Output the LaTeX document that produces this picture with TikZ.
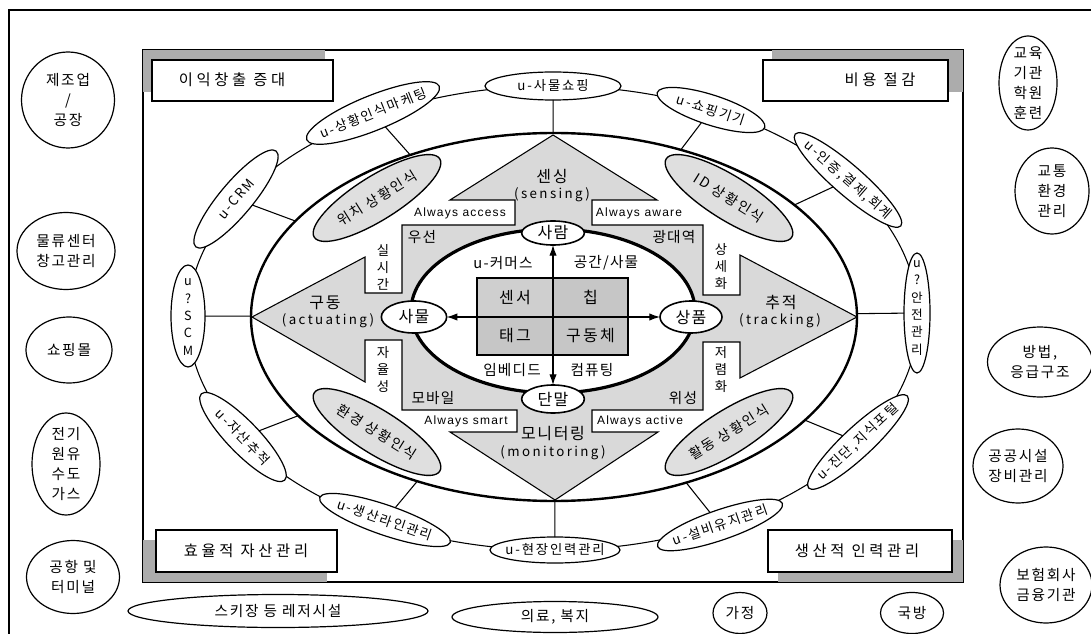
\documentclass[tikz,border=0pt]{standalone}
\usepackage{fontspec}
\setmainfont{Noto Sans CJK KR}
\newfontfamily\lat{Liberation Sans}[LetterSpace=10]
\usetikzlibrary{shapes.geometric,arrows.meta}
\newcommand\myfs[3]{\fontsize{#1}{#2}\selectfont\addfontfeatures{LetterSpace=#3}}
\tikzset{
 sat/.style={draw, ellipse, fill=white, line width=0.9pt},
 isat/.style={draw, ellipse, fill=gray!25, line width=1pt},
 outer/.style={draw, ellipse, fill=white, line width=0.9pt},
 sattxt/.style={font=\myfs{10}{12}{14}},
 isattxt/.style={font=\myfs{10.5}{12}{15}},
 vtxt/.style={align=center, font=\myfs{9.5}{13}{0}},
 outtxt/.style={align=center, font=\myfs{11}{15}{12}},
 ctxt/.style={font=\myfs{11.5}{14}{24}},
 cbox/.style={draw, fill=white, line width=0.9pt},
 keynode/.style={draw, ellipse, fill=white, line width=1.2pt, font=\myfs{12}{14}{8}},
 cell/.style={draw, line width=0.8pt, font=\myfs{12}{14}{14}},
 lbl/.style={font=\myfs{11}{13}{8}},
 arrtxt/.style={font=\myfs{12}{14}{10}},
 engtxt/.style={font=\myfs{10}{12}{18}},
 always/.style={font=\lat\fontsize{9}{11}\selectfont},
 boxv/.style={align=center, font=\myfs{10}{12.75}{0}},
 spoke/.style={line width=0.8pt},
}
\newcommand\Sat[7]{%
 \node[sat, rotate=#4, minimum width=#5*0.75pt, minimum height=#6*0.75pt] (#1) at (#2,#3) {};
 \node[sattxt, rotate=#4] (#1t) at (#1.center) {#7};
 \draw[spoke] (#1) -- (mid);}
\newcommand\Out[6]{%
 \node[outer, minimum width=#4*0.75pt, minimum height=#5*0.75pt] (#1) at (#2,#3) {};
 \node[outtxt] (#1t) at (#1.center) {#6};}
\newcommand\Isat[5]{%
 \node[isat, rotate=#4, minimum width=111pt, minimum height=33pt] (#1) at (#2,#3) {};
 \node[isattxt, rotate=#4] (#1t) at (#1.center) {#5};}
\begin{document}
\begin{tikzpicture}[x=0.75pt,y=-0.75pt, every node/.append style={inner sep=0pt, outer sep=0pt}]
\useasboundingbox (0,0) rectangle (1091,634);
% outer frame
\draw[line width=0.9pt] (9,634) -- (9,10) -- (1091,10);
% inner rectangle
\draw[line width=0.9pt] (143,50) rectangle (963,582);
% corner labels
\fill[gray!65] (143,50) rectangle (325,92);
\node[cbox, minimum width=135.75pt, minimum height=30.75pt] (tl) at (242.5,80.5) {};
\node[ctxt] (tlt) at (232,80) {이익창출 증대};
\fill[gray!65] (772,50) rectangle (963,92);
\node[cbox, minimum width=138.75pt, minimum height=30.75pt] (tr) at (855.5,80.5) {};
\node[ctxt] (trt) at (880,80) {비용 절감};
\fill[gray!65] (143,540) rectangle (327,582);
\node[cbox, minimum width=135.75pt, minimum height=31.5pt] (bl) at (246.5,551) {};
\node[ctxt] (blt) at (246,551) {효율적 자산관리};
\fill[gray!65] (778,540) rectangle (963,582);
\node[cbox, minimum width=138pt, minimum height=31.5pt] (br) at (860,551) {};
\node[ctxt] (brt) at (857,551) {생산적 인력관리};
% ring and middle ellipse
\node[draw, ellipse, line width=0.8pt, minimum width=547.5pt, minimum height=348pt] (ring) at (553,318) {};
\node[draw, ellipse, fill=white, line width=1.8pt, minimum width=454.5pt, minimum height=276pt] (mid) at (554,317) {};
% satellites on ring
\Sat{s90}{553}{86}{0}{136}{28}{u-사물쇼핑}
\Sat{s63}{711}{110}{-18}{113}{30}{u-쇼핑기기}
\Sat{s36}{848}{180}{-41}{140}{30}{u-인증,결제,회계}
\Sat{s0}{917}{313}{0}{26}{120}{}
\node[vtxt] (s0v) at (917,308) {u\\?\\안\\전\\관\\리};
\Sat{s328}{858}{442}{43}{135}{30}{u-진단,지식포털}
\Sat{s297}{720}{525}{19}{132}{30}{u-설비유지관리}
\Sat{s270}{555}{550}{0}{130}{26}{u-현장인력관리}
\Sat{s242}{385}{520}{-19}{138}{30}{u-생산라인관리}
\Sat{s211}{243}{437}{-46}{120}{32}{u-자산추적}
\Sat{s180}{188}{316}{0}{34}{102}{}
\node[vtxt] (s180v) at (188,317) {u\\?\\S\\C\\M};
\Sat{s150}{236}{199}{50}{125}{33}{u-CRM}
\Sat{s119}{373}{113}{22}{143}{35}{u-상황인식마케팅}
% inner gray satellites
\Isat{i1}{377}{198}{32}{위치 상황인식}
\Isat{i2}{729}{198}{-32}{ID 상황인식}
\Isat{i3}{377}{432}{-32}{환경 상황인식}
\Isat{i4}{729}{432}{32}{활동 상황인식}
% gray cross shape
\draw[fill=gray!30, line width=0.8pt] (553,135) -- (657,200) -- (592,200) -- (592,225) -- (703,225)
 -- (703,295) -- (740,295) -- (740,255) -- (857,317) -- (740,378) -- (740,342) -- (703,342)
 -- (703,410) -- (592,410) -- (592,432) -- (658,432) -- (555,500) -- (450,432) -- (517,432)
 -- (517,410) -- (402,410) -- (402,340) -- (365,340) -- (365,382) -- (252,317) -- (365,257)
 -- (365,293) -- (402,293) -- (402,225) -- (515,225) -- (515,200) -- (450,200) -- cycle;
% core ellipse
\node[draw, ellipse, fill=white, line width=2.4pt, minimum width=213pt, minimum height=123pt] (core) at (553,311) {};
% center cells
\node[cell, fill=gray!38, minimum width=57pt, minimum height=29.25pt] (c1) at (515,297.5) {센서};
\node[cell, fill=gray!45, minimum width=56.25pt, minimum height=29.25pt] (c2) at (590.5,297.5) {칩};
\node[cell, fill=gray!45, minimum width=57pt, minimum height=28.5pt] (c3) at (515,336) {태그};
\node[cell, fill=gray!45, minimum width=56.25pt, minimum height=28.5pt] (c4) at (590.5,336) {구동체};
% key nodes
\node[keynode, minimum width=47pt, minimum height=18pt] (saram) at (553,233) {사람};
\node[keynode, minimum width=49pt, minimum height=24pt] (samul) at (414,317) {사물};
\node[keynode, minimum width=46.5pt, minimum height=24pt] (sangpum) at (691,317) {상품};
\node[keynode, minimum width=47pt, minimum height=21pt] (danmal) at (553,399) {단말};
\draw[line width=0.8pt, {Latex[length=8pt,width=5.5pt]}-{Latex[length=8pt,width=5.5pt]}] (saram) -- (danmal);
\draw[line width=0.8pt, {Latex[length=8pt,width=5.5pt]}-{Latex[length=8pt,width=5.5pt]}] (samul) -- (sangpum);
% texts inside core
\node[lbl] (t1) at (503,263) {u-커머스};
\node[lbl] (t2) at (606,263) {공간/사물};
\node[lbl] (t3) at (512,370) {임베디드};
\node[lbl] (t4) at (592,370) {컴퓨팅};
% gray area labels
\node[lbl] (g1) at (422,237) {우선};
\node[lbl] (g2) at (674,237) {광대역};
\node[lbl] (g3) at (433,398) {모바일};
\node[lbl] (g4) at (683,398) {위성};
% notch labels
\node[always] (a1) at (460,213) {Always access};
\node[always] (a2) at (639,213) {Always aware};
\node[always] (a3) at (466,421) {Always smart};
\node[always] (a4) at (640,421) {Always active};
\node[boxv] (v1) at (383,267) {실\\시\\간};
\node[boxv] (v2) at (383,369) {자\\율\\성};
\node[boxv] (v3) at (721,267) {상\\세\\화};
\node[boxv] (v4) at (721,370) {저\\렴\\화};
% arrow labels
\node[arrtxt] (k1) at (552,176) {센싱};
\node[engtxt] (k1e) at (552,195) {(sensing)};
\node[arrtxt] (k2) at (325,303) {구동};
\node[engtxt] (k2e) at (328,321) {(actuating)};
\node[arrtxt] (k3) at (781,303) {추적};
\node[engtxt] (k3e) at (780,321) {(tracking)};
\node[arrtxt] (k4) at (553,434) {모니터링};
\node[engtxt] (k4e) at (553,453) {(monitoring)};
% outer application areas
\Out{o1}{68}{100}{93}{96}{제조업\\/\\공장}
\Out{o2}{66}{251}{98}{77}{물류센터\\창고관리}
\Out{o3}{69}{350}{86}{66}{쇼핑몰}
\Out{o4}{66}{464}{68}{102}{전기\\원유\\수도\\가스}
\Out{o5}{73}{577}{93}{73}{공항 및\\터미널}
\Out{o6}{1028}{83}{58}{94}{교육\\기관\\학원\\훈련}
\Out{o7}{1052}{191}{74}{86}{교통\\환경\\관리}
\Out{o8}{1040}{362}{105}{70}{방법,\\응급구조}
\Out{o9}{1018}{466}{90}{74}{공공시설\\장비관리}
\Out{o10}{1046}{585}{92}{76}{보험회사\\금융기관}
\Out{o11}{278}{611}{300}{33}{스키장 등 레저시설}
\Out{o12}{555}{617}{206}{31}{의료, 복지}
\Out{o13}{740}{613}{54}{41}{가정}
\Out{o14}{912}{613}{63}{41}{국방}
\end{tikzpicture}
\end{document}
